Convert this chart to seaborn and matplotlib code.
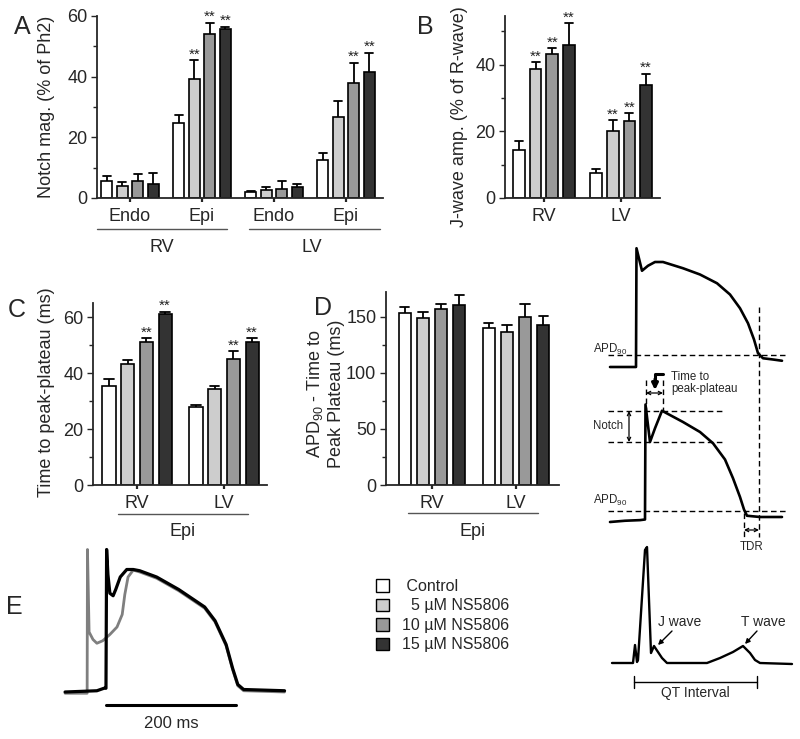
import matplotlib
matplotlib.use('Agg')
import matplotlib.pyplot as plt
from matplotlib import font_manager
from matplotlib.patches import Patch
import pandas as pd
import seaborn as sns

# --- data ---------------------------------------------------------------
conditions = ['Control', '5 µM NS5806', '10 µM NS5806', '15 µM NS5806']
legend_labels = [' Control', '  5 µM NS5806', '10 µM NS5806', '15 µM NS5806']
bar_colors = ['#ffffff', '#cdcdcd', '#999999', '#333333']

# A: notch magnitude (% of Ph2), rows = conditions, cols = groups
a_groups = ['RV Endo', 'RV Epi', 'LV Endo', 'LV Epi']
a_ticklabels = ['Endo', 'Epi', 'Endo', 'Epi']
a_mean = [[5.7, 24.7, 1.9, 12.6], [3.8, 39.2, 2.7, 26.7],
          [5.7, 54.0, 3.1, 37.8], [4.6, 55.6, 3.5, 41.4]]
a_sem = [[1.4, 2.7, 0.4, 2.2], [1.5, 6.3, 0.8, 5.3],
         [2.2, 3.8, 2.4, 6.8], [3.8, 0.9, 1.1, 6.5]]
a_sig = [[0, 0, 0, 0], [0, 1, 0, 0], [0, 1, 0, 1], [0, 1, 0, 1]]

# B: J-wave amplitude (% of R-wave)
b_groups = ['RV', 'LV']
b_mean = [[14.3, 7.6], [38.8, 20.0], [43.2, 23.0], [45.8, 33.8]]
b_sem = [[2.9, 1.2], [1.9, 3.3], [1.8, 2.5], [6.7, 3.5]]
b_sig = [[0, 0], [1, 1], [1, 1], [1, 1]]

# C: time to peak-plateau (ms), Epi
c_groups = ['RV', 'LV']
c_mean = [[35.5, 27.8], [43.2, 34.4], [50.9, 45.0], [61.2, 50.9]]
c_sem = [[2.4, 0.9], [1.3, 1.1], [1.6, 2.7], [0.7, 1.6]]
c_sig = [[0, 0], [0, 0], [1, 1], [1, 1]]

# D: APD90 - time to peak plateau (ms), Epi
d_groups = ['RV', 'LV']
d_mean = [[153.6, 140.0], [149.0, 136.6], [157.5, 150.0], [161.0, 142.6]]
d_sem = [[5.4, 5.0], [5.0, 6.4], [4.5, 11.6], [9.0, 8.0]]
d_sig = [[0, 0], [0, 0], [0, 0], [0, 0]]

# schematic epicardial AP (time ms, membrane potential mV)
ap1_t = [-52, 0, 1, 12, 24, 38, 54, 94, 128, 162, 188, 208, 224, 236, 244, 254, 274, 292]
ap1_v = [-85, -85, 10, -8, -4, -1, -1, -6, -11, -18, -27, -38, -50, -63, -74, -78, -79, -80]
ap2_t = [-70, -40, -10, 0, 1, 10, 20, 34, 76, 110, 136, 160, 176, 190, 198, 204, 230, 274]
ap2_v = [-85, -84, -83.5, -83, 9, -21, -10, 4, -5, -13, -22, -35, -50, -65, -75, -80, -81, -81]

# schematic ECG (time ms, mV)
ecg_t = [-42, 0, 4, 8, 10, 24, 28, 36, 42, 50, 58, 68, 148, 174, 200, 220, 234, 244, 254, 318]
ecg_v = [0, 0, 0.18, 0.01, 0.03, 1.13, 1.16, 0.10, 0.17, 0.11, 0.05, 0, 0, 0.05, 0.11,
         0.17, 0.10, 0.03, 0, -0.01]

# E: representative APs, 15 µM NS5806 (black) and control-like early trace (gray)
e_black_t = [-63, -14, -3, 0, 1, 3, 6, 11, 15, 22, 32, 42, 52, 78, 112, 152, 168, 185,
             195, 203, 212, 275]
e_black_v = [-85, -84, -82, -82, 29, 9, -6, -8, -3, 7, 13, 13, 12, 7, -3, -17, -28, -47,
             -66, -79, -83, -84]
e_gray_t = [-63, -29, -28.5, -26, -20, -14, -5, 6, 17, 25, 29, 34, 42, 52, 78, 112, 152,
            168, 185, 195, 203, 212, 275]
e_gray_v = [-86, -86, 29, -37, -43, -46, -44, -39, -33, -23, -7, 7, 12.5, 11, 6, -4, -18,
            -29, -48, -67, -80, -84, -85]

# --- style --------------------------------------------------------------
sns.set_style('ticks')
names = {f.name for f in font_manager.fontManager.ttflist}
main_font = 'Liberation Sans' if 'Liberation Sans' in names else 'DejaVu Sans'
narrow_font = 'Liberation Sans Narrow' if 'Liberation Sans Narrow' in names else main_font
plt.rcParams['font.family'] = [main_font, 'DejaVu Sans']
plt.rcParams['mathtext.fontset'] = 'custom'
plt.rcParams['mathtext.rm'] = main_font
plt.rcParams['mathtext.it'] = main_font
plt.rcParams['axes.linewidth'] = 1.3

W, H = 800, 739
fig = plt.figure(figsize=(W / 100, H / 100), dpi=100)


def px_axes(x0, y0, x1, y1):
    """Axes placed by pixel box (top-left origin)."""
    return fig.add_axes([x0 / W, 1 - y1 / H, (x1 - x0) / W, (y1 - y0) / H])


def draw_bars(ax, groups, mean, sem, sig, ticklabels, ylim, major, minor, xlim):
    rows = []
    for ci, cond in enumerate(conditions):
        for gi, g in enumerate(groups):
            rows.append({'group': g, 'cond': cond, 'value': mean[ci][gi]})
    df = pd.DataFrame(rows)
    sns.barplot(data=df, x='group', y='value', hue='cond', order=groups,
                hue_order=conditions, palette=bar_colors, saturation=1,
                width=0.86, gap=0.3, edgecolor='black', linewidth=1.2,
                errorbar=None, legend=False, ax=ax)
    step = 0.86 / 4
    for cont in ax.containers:
        for bar in cont:
            xc = bar.get_x() + bar.get_width() / 2
            gi = int(round(xc))
            ci = int(round((xc - gi) / step + 1.5))
            top = bar.get_height()
            hi = top + sem[ci][gi]
            cap = bar.get_width() * 0.36
            ax.plot([xc, xc], [top, hi], color='k', lw=1.3, zorder=3,
                    solid_capstyle='butt')
            ax.plot([xc - cap, xc + cap], [hi, hi], color='k', lw=1.3, zorder=3)
            if sig[ci][gi]:
                ax.annotate('**', (xc, hi), xytext=(0, -1), textcoords='offset points',
                            ha='center', va='bottom', fontsize=11, color='#222222')
    ax.set_xlim(*xlim)
    ax.set_ylim(*ylim)
    ax.set_xticks(range(len(groups)))
    ax.set_xticklabels(ticklabels)
    ax.set_yticks(major)
    ax.set_yticks(minor, minor=True)
    ax.tick_params(axis='x', length=3, width=1.6, pad=4, labelsize=13)
    ax.tick_params(axis='y', which='major', length=4, width=1, pad=3, labelsize=13)
    ax.tick_params(axis='y', which='minor', length=3, width=1)
    ax.set_xlabel('')
    ax.set_ylabel('')
    sns.despine(ax=ax)


ax_a = px_axes(97, 16, 383, 198)
draw_bars(ax_a, a_groups, a_mean, a_sem, a_sig, a_ticklabels, (0, 60),
          [0, 20, 40, 60], [10, 30, 50], (-0.458, 3.514))

ax_b = px_axes(505, 16.3, 660, 198)
draw_bars(ax_b, b_groups, b_mean, b_sem, b_sig, b_groups, (0, 54.5),
          [0, 20, 40], [10, 30, 50], (-0.506, 1.506))

ax_c = px_axes(93, 303, 267, 485)
draw_bars(ax_c, c_groups, c_mean, c_sem, c_sig, c_groups, (0, 65),
          [0, 20, 40, 60], [10, 30, 50], (-0.506, 1.494))

ax_d = px_axes(386, 292, 559, 485)
draw_bars(ax_d, d_groups, d_mean, d_sem, d_sig, d_groups, (0, 172.3),
          [0, 50, 100, 150], [25, 75, 125], (-0.548, 1.512))

# --- schematic traces ---------------------------------------------------
ax_ap1 = px_axes(600, 240, 795, 372)
ax_ap1.plot(ap1_t, ap1_v, color='black', lw=1.9)
ax_ap1.set_xlim(-72, 318)
ax_ap1.set_ylim(-89, 16.6)

ax_ap2 = px_axes(600, 398, 795, 525)
ax_ap2.plot(ap2_t, ap2_v, color='black', lw=1.9)
ax_ap2.set_xlim(-90, 300)
ax_ap2.set_ylim(-87.4, 14.2)

ax_ecg = px_axes(600, 540, 798, 670)
ax_ecg.plot(ecg_t, ecg_v, color='black', lw=1.7)
ax_ecg.set_xlim(-66, 330)
ax_ecg.set_ylim(-0.07, 1.23)

ax_e = px_axes(60, 545, 290, 735)
ax_e.plot(e_gray_t, e_gray_v, color='#7f7f7f', lw=2.0)
ax_e.plot(e_black_t, e_black_v, color='black', lw=2.3)
ax_e.plot([0, 200], [-95.4, -95.4], color='black', lw=2.2)
ax_e.text(100, -109.8, '200 ms', ha='center', va='center', fontsize=12)
ax_e.set_xlim(-70.8, 283.4)
ax_e.set_ylim(-119.4, 32.6)

for ax in (ax_ap1, ax_ap2, ax_ecg, ax_e):
    ax.axis('off')

# legend for bar shading
handles = [Patch(facecolor=c, edgecolor='black', linewidth=1.0) for c in bar_colors]
fig.legend(handles, legend_labels, loc='upper left', bbox_to_anchor=(376 / W, 1 - 579 / H),
           frameon=False, borderpad=0, borderaxespad=0, handlelength=0.8,
           handleheight=0.8, handletextpad=0.8, labelspacing=0.28,
           prop={'family': narrow_font, 'size': 11.5})

# --- overlay for labels and annotations (pixel coordinates) ------------
ov = fig.add_axes([0, 0, 1, 1], zorder=10)
ov.set_xlim(0, W)
ov.set_ylim(H, 0)
ov.axis('off')

for letter, x, y in [('A', 22, 27), ('B', 425, 27), ('C', 17, 310), ('D', 323, 308),
                     ('E', 14, 607)]:
    ov.text(x, y, letter, fontsize=18, ha='center', va='center')

ov.text(47, 107, 'Notch mag. (% of Ph2)', rotation=90, ha='center', va='center', fontsize=13)
ov.text(460, 117, 'J-wave amp. (% of R-wave)', rotation=90, ha='center', va='center',
        fontsize=13)
ov.text(47, 392, 'Time to peak-plateau (ms)', rotation=90, ha='center', va='center',
        fontsize=13)
ov.text(325, 394, 'APD$_{90}$ - Time to\nPeak Plateau (ms)', rotation=90, ha='center',
        va='center', fontsize=13, linespacing=1.3)

line_kw = dict(color='#555555', lw=1.0)
ov.plot([97, 227], [229, 229], **line_kw)
ov.plot([249, 380], [229, 229], **line_kw)
ov.text(162, 247, 'RV', ha='center', va='center', fontsize=13)
ov.text(312, 247, 'LV', ha='center', va='center', fontsize=13)
ov.plot([118, 248], [514, 514], **line_kw)
ov.text(183, 532, 'Epi', ha='center', va='center', fontsize=13)
ov.plot([408, 538], [513, 513], **line_kw)
ov.text(473, 532, 'Epi', ha='center', va='center', fontsize=13)

dash = dict(color='black', lw=1.0, ls=(0, (4, 2.5)))
ov.plot([608, 785], [355, 355], **dash)
ov.plot([759, 759], [307, 537], **dash)
ov.plot([608, 722], [411, 411], **dash)
ov.plot([608, 722], [442, 442], **dash)
ov.plot([608, 787], [511, 511], **dash)
ov.plot([646, 646], [380, 411], **dash)
ov.plot([663, 663], [380, 411], **dash)
ov.plot([744, 744], [513, 537], **dash)

arrow2 = dict(arrowstyle='<->', color='black', lw=0.9, shrinkA=0, shrinkB=0,
              mutation_scale=6)
ov.annotate('', xy=(629, 411), xytext=(629, 442), arrowprops=arrow2)
ov.annotate('', xy=(646, 393), xytext=(663, 393), arrowprops=arrow2)
ov.annotate('', xy=(744, 530), xytext=(759, 530), arrowprops=arrow2)

ov.plot([663, 655, 655], [374, 374, 381], color='black', lw=2.2, solid_joinstyle='round')
ov.annotate('', xy=(655, 390), xytext=(655, 379),
            arrowprops=dict(arrowstyle='-|>', color='black', lw=2.2, shrinkA=0, shrinkB=0,
                            mutation_scale=9))

small = dict(family=[narrow_font, 'DejaVu Sans'], fontsize=8.3)
ov.text(593, 349, 'APD$_{90}$', ha='left', va='center', **small)
ov.text(593, 500, 'APD$_{90}$', ha='left', va='center', **small)
ov.text(593, 426, 'Notch', ha='left', va='center', **small)
ov.text(671, 377, 'Time to', ha='left', va='center', **small)
ov.text(671, 389, 'peak-plateau', ha='left', va='center', **small)
ov.text(752, 547, 'TDR', ha='center', va='center', **small)

mid = dict(family=[narrow_font, 'DejaVu Sans'], fontsize=10)
ov.text(680, 622, 'J wave', ha='center', va='center', **mid)
ov.text(763, 622, 'T wave', ha='center', va='center', **mid)
ov.text(695, 693, 'QT Interval', ha='center', va='center', **mid)
head = dict(arrowstyle='-|>', color='black', lw=1.0, shrinkA=0, shrinkB=0,
            mutation_scale=7)
ov.annotate('', xy=(658, 645), xytext=(672, 631), arrowprops=head)
ov.annotate('', xy=(745, 644), xytext=(757, 631), arrowprops=head)
ov.plot([634, 757], [682, 682], color='black', lw=1.0)
ov.plot([634, 634], [676, 688], color='black', lw=1.0)
ov.plot([757, 757], [676, 688], color='black', lw=1.0)

fig.savefig('out.png', dpi=100)
